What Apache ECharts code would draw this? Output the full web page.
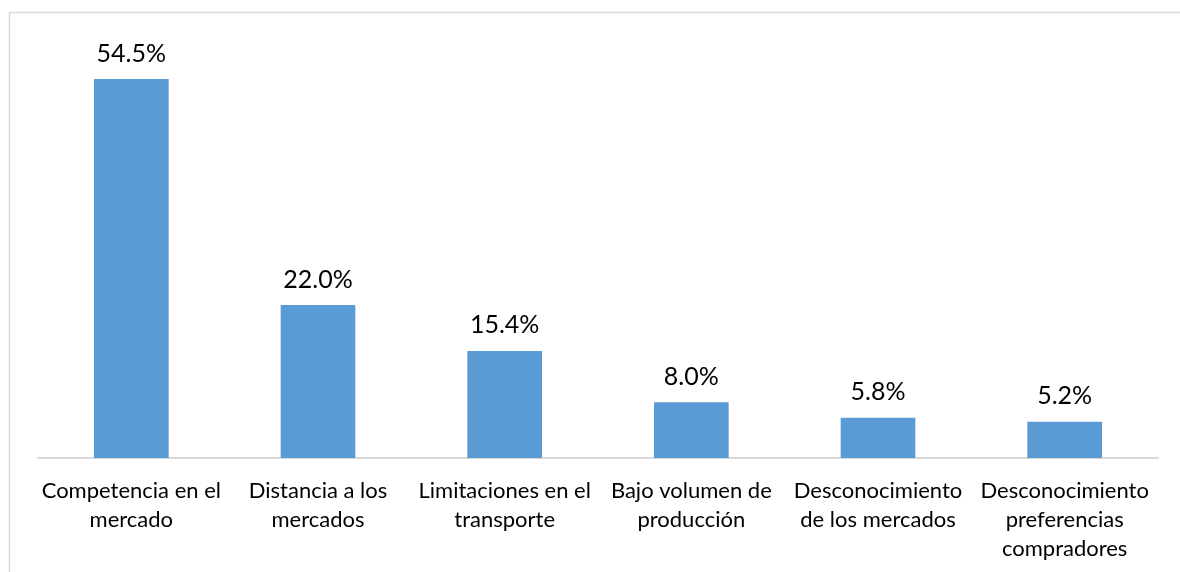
<!DOCTYPE html>
<html>
<head>
<meta charset="utf-8">
<script src="https://cdn.jsdelivr.net/npm/echarts@6/dist/echarts.min.js"></script>
<style>
  html, body { margin: 0; padding: 0; background: #fff; }
  #chart { width: 1180px; height: 572px; }
</style>
</head>
<body>
<div id="chart"></div>
<script>
// Obstacles to marketing: share of responses per category
const categories = [
  'Competencia en el\nmercado',
  'Distancia a los\nmercados',
  'Limitaciones en el\ntransporte',
  'Bajo volumen de\nproducción',
  'Desconocimiento\nde los mercados',
  'Desconocimiento\npreferencias\ncompradores'
];
const shares = [54.5, 22.0, 15.4, 8.0, 5.8, 5.2];

const FONT = 'Lato, "Open Sans", sans-serif';

const chart = echarts.init(document.getElementById('chart'), null, { renderer: 'canvas' });
chart.setOption({
  animation: false,
  backgroundColor: '#ffffff',
  graphic: [{
    type: 'rect',
    shape: { x: 9.5, y: 12.5, width: 1300, height: 700 },
    style: { fill: 'none', stroke: '#d9d9d9', lineWidth: 1.5 },
    silent: true
  }],
  grid: { left: 38, right: 22, top: 40.7, bottom: 114 },
  xAxis: {
    type: 'category',
    data: categories,
    axisLine: { show: true, lineStyle: { color: '#d9d9d9', width: 2 } },
    axisTick: { show: false },
    axisLabel: {
      interval: 0,
      color: '#000',
      fontFamily: FONT,
      fontSize: 22,
      lineHeight: 29,
      margin: 18
    }
  },
  yAxis: {
    type: 'value',
    min: 0,
    max: 60,
    show: false,
    splitLine: { show: false }
  },
  series: [{
    type: 'bar',
    data: shares,
    barWidth: '40%',
    itemStyle: { color: '#5b9bd5' },
    label: {
      show: true,
      position: 'top',
      distance: 13,
      color: '#000',
      fontFamily: FONT,
      fontSize: 25,
      formatter: p => p.value.toFixed(1) + '%'
    }
  }]
});
</script>
</body>
</html>
